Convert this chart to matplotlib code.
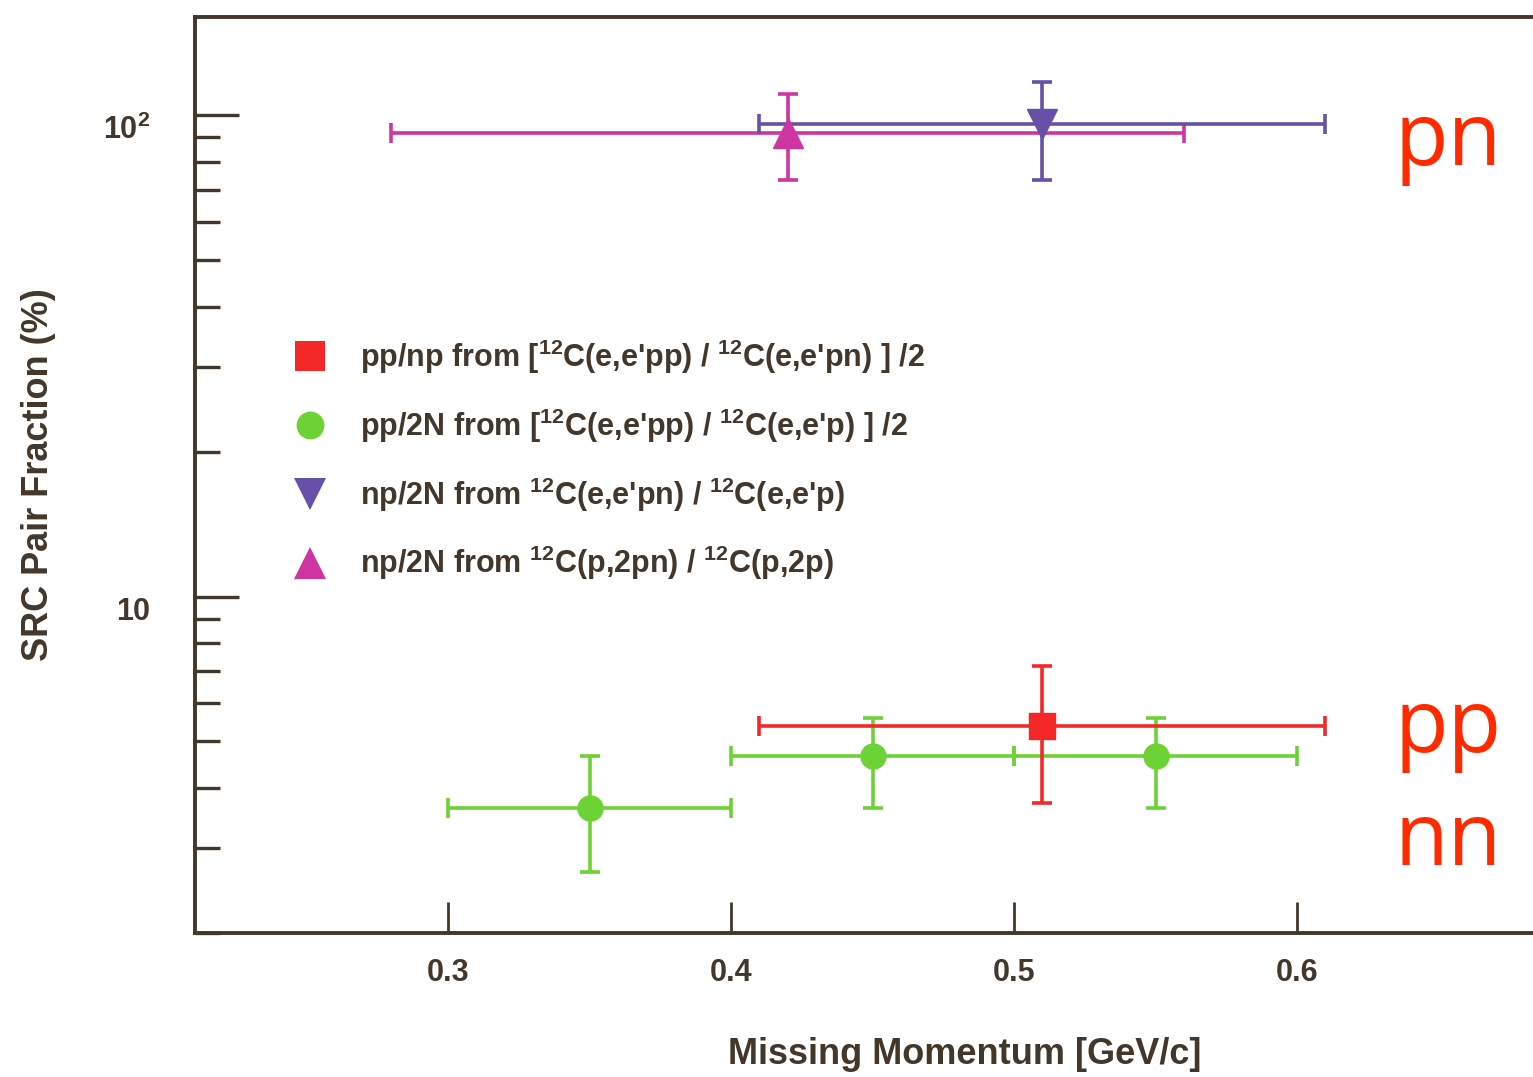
import matplotlib
matplotlib.use("Agg")
import matplotlib.pyplot as plt
import matplotlib.transforms as mtransforms
from matplotlib.lines import Line2D
from matplotlib.ticker import LogLocator, FixedLocator, FixedFormatter, NullFormatter

# data
pp_np_x = [0.51]
pp_np_y = [5.38]
pp_np_ylo = [3.72]
pp_np_yhi = [7.18]
pp_np_xerr = [0.10]

pp_2n_x = [0.35, 0.45, 0.55]
pp_2n_y = [3.64, 4.67, 4.67]
pp_2n_ylo = [2.68, 3.64, 3.64]
pp_2n_yhi = [4.67, 5.60, 5.60]
pp_2n_xerr = [0.05, 0.05, 0.05]

np_ee_x = [0.51]
np_ee_y = [95.8]
np_ee_ylo = [73.5]
np_ee_yhi = [117.0]
np_ee_xerr = [0.10]

np_p2p_x = [0.42]
np_p2p_y = [91.7]
np_p2p_ylo = [73.5]
np_p2p_yhi = [110.6]
np_p2p_xerr = [0.14]

labels = [
    r"pp/np from [$^{12}$C(e,e'pp) / $^{12}$C(e,e'pn) ] /2",
    r"pp/2N from [$^{12}$C(e,e'pp) / $^{12}$C(e,e'p) ] /2",
    r"np/2N from $^{12}$C(e,e'pn) / $^{12}$C(e,e'p)",
    r"np/2N from $^{12}$C(p,2pn) / $^{12}$C(p,2p)",
]
xticks = [0.3, 0.4, 0.5, 0.6]

plt.rcParams['font.family'] = 'Liberation Sans'
plt.rcParams['font.weight'] = 'bold'
plt.rcParams['axes.labelweight'] = 'bold'
plt.rcParams['mathtext.fontset'] = 'custom'
plt.rcParams['mathtext.rm'] = 'Liberation Sans:bold'
plt.rcParams['mathtext.bf'] = 'Liberation Sans:bold'
plt.rcParams['mathtext.default'] = 'bf'

ink = '#43372b'
red = '#f52828'
green = '#6dd235'
purple = '#6650a8'
magenta = '#cf35a0'

fig = plt.figure(figsize=(15.33, 10.77), dpi=100)
ax = fig.add_axes([195 / 1533, 144 / 1077, 1345 / 1533, 916 / 1077])


def draw(x, y, lo, hi, xe, color, marker, ms):
    yerr = [[v - l for v, l in zip(y, lo)], [h - v for v, h in zip(y, hi)]]
    ax.errorbar(x, y, xerr=xe, yerr=yerr, fmt=marker, color=color, ms=ms,
                mec=color, elinewidth=2.6, capsize=7, capthick=2.6)


draw(pp_2n_x, pp_2n_y, pp_2n_ylo, pp_2n_yhi, pp_2n_xerr, green, 'o', 18)
draw(pp_np_x, pp_np_y, pp_np_ylo, pp_np_yhi, pp_np_xerr, red, 's', 19)
draw(np_p2p_x, np_p2p_y, np_p2p_ylo, np_p2p_yhi, np_p2p_xerr, magenta, '^', 22)
draw(np_ee_x, np_ee_y, np_ee_ylo, np_ee_yhi, np_ee_xerr, purple, 'v', 22)

ax.set_yscale('log')
ax.set_xlim(0.2106, 0.2106 + 1345 / 2830)
ax.set_ylim(2.0, 160)

ax.yaxis.set_major_locator(FixedLocator([10, 100]))
ax.yaxis.set_major_formatter(FixedFormatter(['10', r'$10^{2}$']))
ax.yaxis.set_minor_locator(LogLocator(base=10, subs=range(2, 10)))
ax.yaxis.set_minor_formatter(NullFormatter())
ax.set_xticks(xticks)
ax.set_xticklabels(['0.3', '0.4', '0.5', '0.6'])

for s in ['left', 'bottom', 'top']:
    ax.spines[s].set_color(ink)
    ax.spines[s].set_linewidth(2.8)
ax.spines['right'].set_visible(False)

ax.tick_params(axis='y', which='major', direction='in', length=32, width=2.4,
               color=ink, labelsize=22, labelcolor=ink, pad=32, right=False)
ax.tick_params(axis='y', which='minor', direction='in', length=18, width=2.4,
               color=ink, right=False)
ax.tick_params(axis='x', which='major', direction='in', length=22, width=2,
               color=ink, labelsize=22, labelcolor=ink, pad=18, top=False)
ax.tick_params(axis='x', which='minor', bottom=False, top=False)

# y tick labels sit a little below their ticks in the reference
shift = mtransforms.ScaledTranslation(0, -12 / 100, fig.dpi_scale_trans)
for lab in ax.get_yticklabels():
    lab.set_transform(lab.get_transform() + shift)

ax.set_xlabel('Missing Momentum [GeV/c]', fontsize=26, color=ink)
ax.xaxis.set_label_coords(0.5725, -0.113)
ax.set_ylabel('SRC Pair Fraction (%)', fontsize=26, color=ink, labelpad=34)

handles = [
    Line2D([], [], ls='none', marker='s', color=red, ms=21, mew=0),
    Line2D([], [], ls='none', marker='o', color=green, ms=20, mew=0),
    Line2D([], [], ls='none', marker='v', color=purple, ms=23, mew=0),
    Line2D([], [], ls='none', marker='^', color=magenta, ms=23, mew=0),
]
leg = ax.legend(handles, labels, loc='upper left', bbox_to_anchor=(0.05, 0.68),
                frameon=False, fontsize=22, labelspacing=1.0, handletextpad=1.0,
                handlelength=1.3)
for t in leg.get_texts():
    t.set_color(ink)

tc = '#ff2a00'
for txt, yb in [('pn', 165), ('pp', 752), ('nn', 865)]:
    fig.text(1395 / 1533, 1 - yb / 1077, txt, fontsize=63, color=tc,
             family='Open Sans', weight='normal', va='baseline', ha='left')

fig.savefig('out.png', dpi=100)
